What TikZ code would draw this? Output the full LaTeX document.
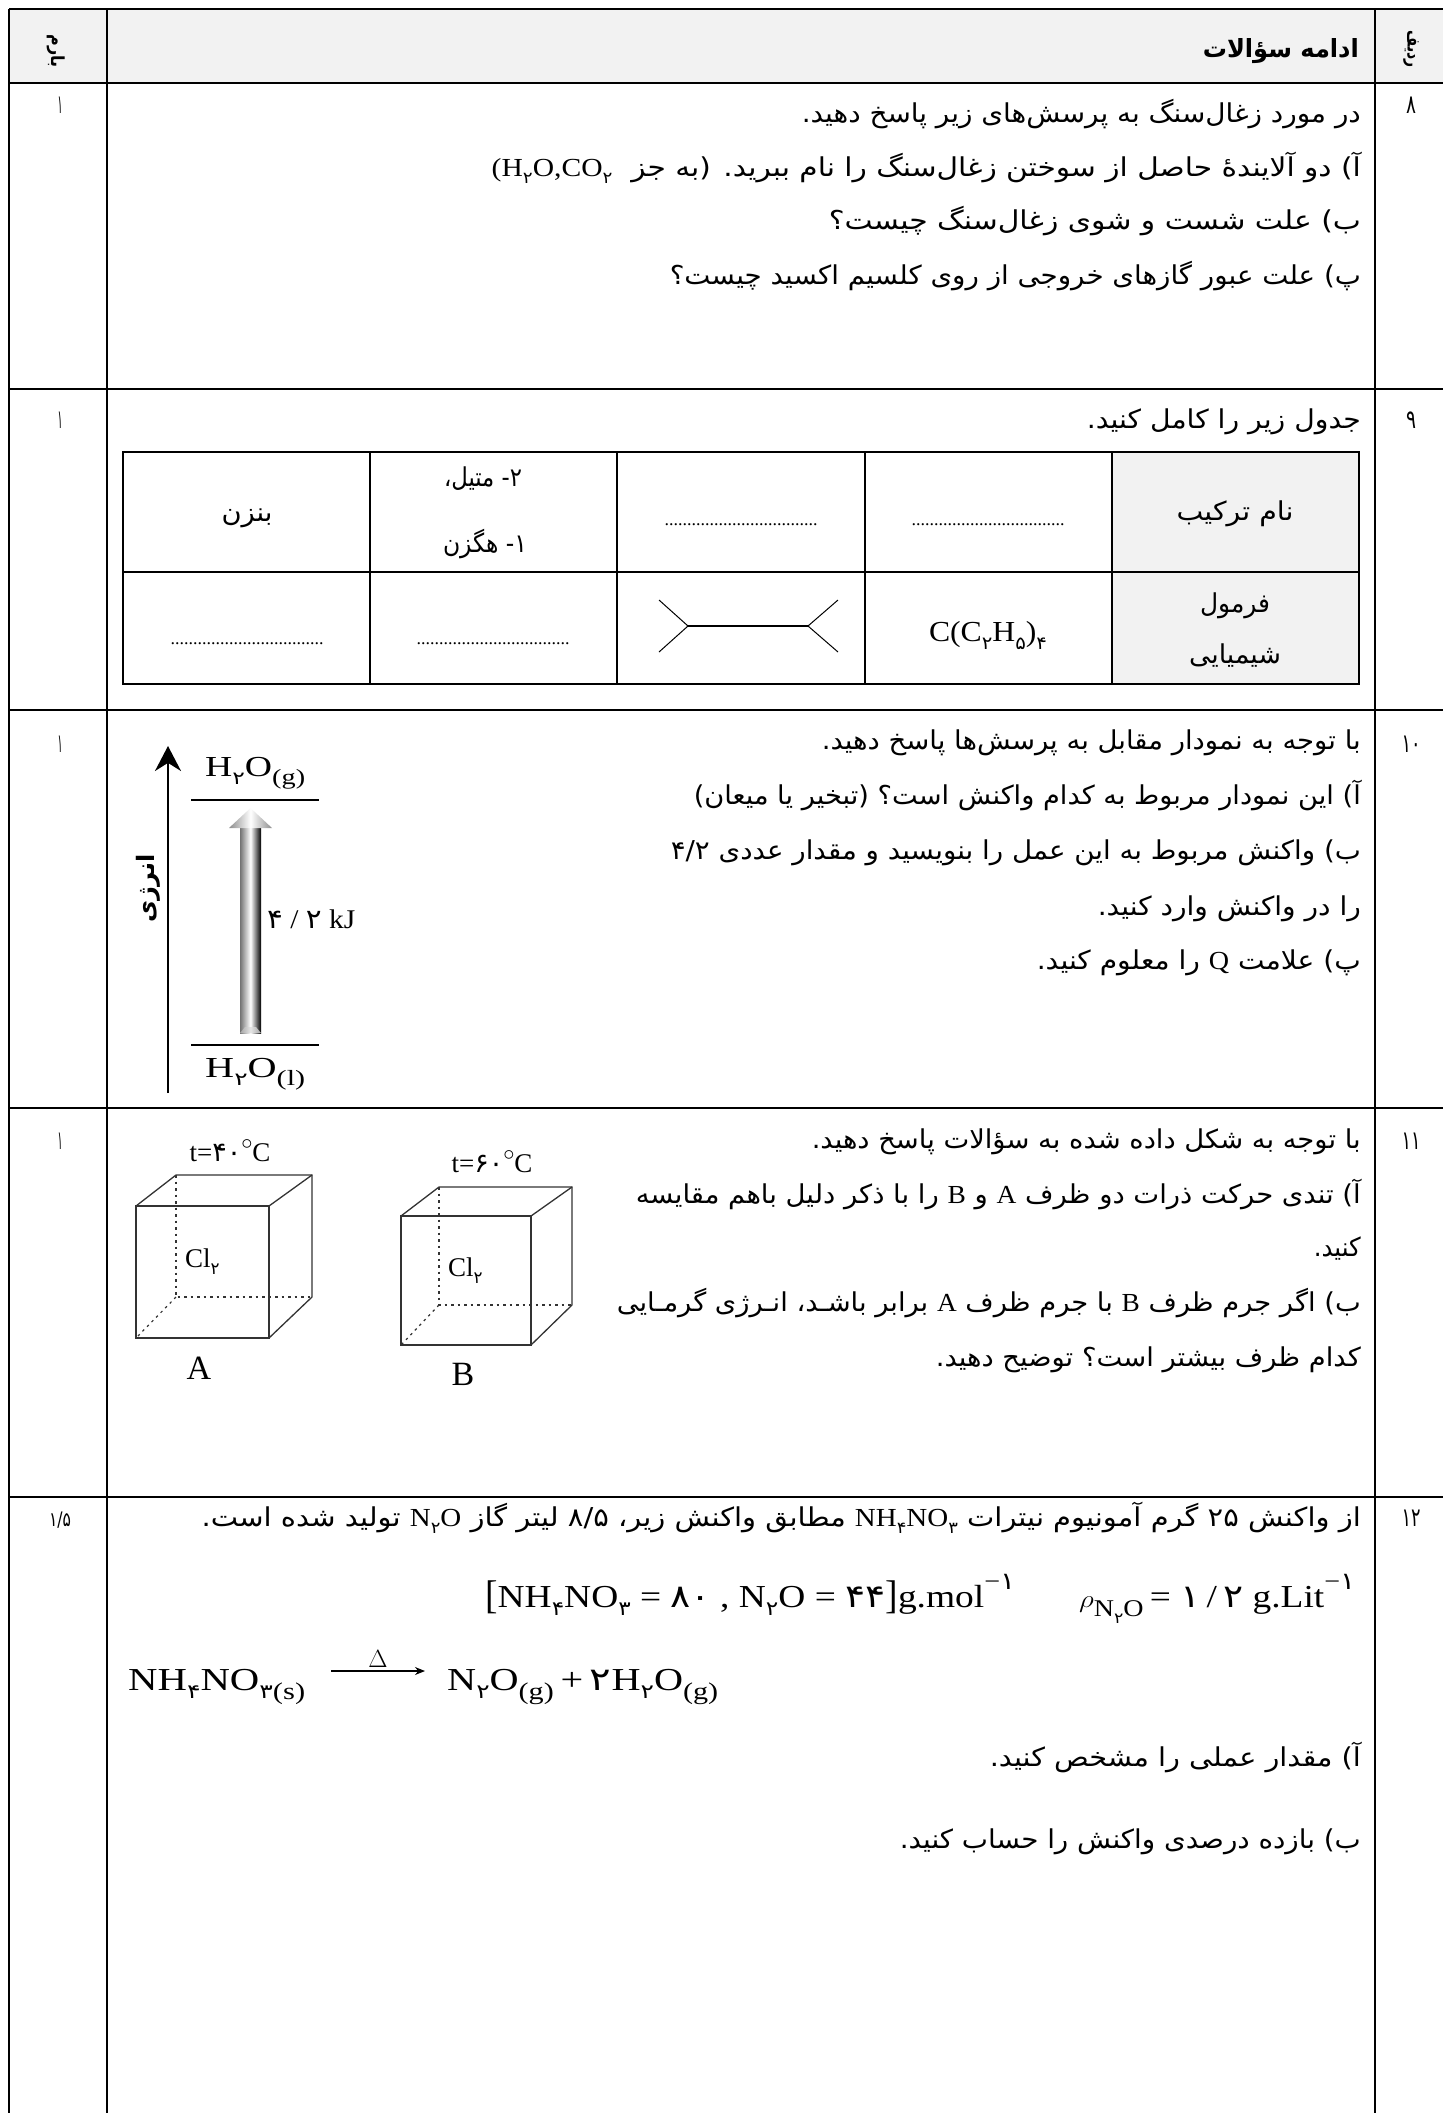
\documentclass[tikz,border=0pt]{standalone}
\usepackage{fontspec}
\usepackage{graphicx}
\TeXXeTstate=1
\newfontfamily\faf[Script=Arabic]{DejaVu Sans}
\newfontfamily\fab[Script=Arabic]{DejaVu Sans Bold}
\newfontfamily\ser{Liberation Serif}
\setmainfont{Liberation Serif}
\usetikzlibrary{arrows.meta}
\newcommand{\csub}[1]{\raisebox{-.28em}{\scalebox{.62}{\faf #1}}}
\newcommand{\ssub}[1]{\raisebox{-.3em}{\scalebox{.75}{#1}}}
\newcommand{\ssup}[1]{\raisebox{.55em}{\scalebox{.75}{#1}}}
\newcommand{\hto}{H\csub{۲}O}
\newcommand{\nno}{N\csub{۲}O}
\newcommand{\amm}{NH\csub{۴}NO\csub{۳}}
% Persian line: name, right x, y, width, text
\newcommand{\fa}[5]{\node[txt] (#1) at (#2,#3) {\resizebox{#4pt}{\height}{\fontsize{26}{30}\faf #5}};}
% Persian centred in a cell
\newcommand{\fc}[5]{\node[ctxt] (#1) at (#2,#3) {\resizebox{#4pt}{\height}{\fontsize{26}{30}\faf #5}};}
% Latin, left x
\newcommand{\la}[6]{\node[ltxt] (#1) at (#2,#3) {\resizebox{#4pt}{\height}{\fontsize{#5}{#5}\ser #6}};}
\newcommand{\lc}[5]{\node[lc] (#1) at (#2,#3) {\fontsize{#4}{#4}\ser #5};}
\tikzset{
  txt/.style={anchor=base east,inner sep=0pt,yshift=-8pt},
  ctxt/.style={anchor=base,inner sep=0pt,yshift=-8pt},
  ltxt/.style={anchor=base west,inner sep=0pt,yshift=-9pt},
  lc/.style={anchor=base,inner sep=0pt,yshift=-9pt},
  thickrule/.style={line width=2.4pt},
  thinrule/.style={line width=1.5pt},
  wire/.style={line width=1.3pt,draw=black!80},
  dotw/.style={line width=1.2pt,draw=black!80,dash pattern=on 2.5pt off 4pt},
  level/.style={line width=1.3pt},
  axis/.style={line width=2pt,-{Stealth[length=25pt,width=26pt]}},
  mol/.style={line width=1pt},
  molb/.style={line width=1.6pt},
  dotsl/.style={ctxt,font=\fontsize{18}{18}\ser}
}
\begin{document}
\begin{tikzpicture}[x=1pt,y=-1pt]
\useasboundingbox (0,0) rectangle (1443,2113);
\fill[black!5] (9,9) rectangle (1443,83);
% table frame
\coordinate (fl) at (9,9); \coordinate (flb) at (9,2113);
\coordinate (cl) at (107,9); \coordinate (clb) at (107,2113);
\coordinate (cr) at (1375,9); \coordinate (crb) at (1375,2113);
\draw[thinrule] (fl)--(flb);
\draw[thinrule] (cl)--(clb);
\draw[thinrule] (cr)--(crb);
\foreach \ya in {9,83,389,710,1108,1497}{\draw[thickrule] (9,\ya)--(1443,\ya);}
% header
\node[anchor=base east,inner sep=0pt,yshift=-8pt] (hd) at (1359,49) {\resizebox{156pt}{\height}{\fontsize{25}{30}\fab\beginR ادامه سؤالات\endR}};
\node[rotate=-90,inner sep=0pt] (hl) at (56,51) {\resizebox{33pt}{\height}{\fontsize{18}{20}\fab\beginR بارم\endR}};
\node[rotate=-90,inner sep=0pt] (hr) at (1411,49) {\resizebox{37pt}{\height}{\fontsize{18}{20}\fab\beginR ردیف\endR}};
% row numbers
\fc{n8}{1411}{105}{10}{۸}
\fc{n9}{1411}{420}{10}{۹}
\fc{n10}{1411}{744}{19}{۱۰}
\fc{n11}{1411}{1141}{19}{۱۱}
\fc{n12}{1411}{1518}{19}{۱۲}
\fc{b8}{60}{105}{5}{۱}
\fc{b9}{60}{420}{5}{۱}
\fc{b10}{60}{744}{5}{۱}
\fc{b11}{60}{1141}{5}{۱}
\node[ctxt] (b12) at (60,1518) {\resizebox{22pt}{\height}{\fontsize{20}{22}\faf ۱/۵}};
% Q8
\fa{q8a}{1361}{114}{559}{\beginR در مورد زغال‌سنگ به پرسش‌های زیر پاسخ دهید.\endR}
\fa{q8b}{1361}{168}{869}{\beginR آ) دو آلایندهٔ حاصل از سوختن زغال‌سنگ را نام ببرید. (به جز\ \ \beginL{\ser (\hto,CO\csub{۲}}\endL\endR}
\fa{q8c}{1361}{221}{532}{\beginR ب) علت شست و شوی زغال‌سنگ چیست؟\endR}
\fa{q8d}{1361}{276}{691}{\beginR پ) علت عبور گازهای خروجی از روی کلسیم اکسید چیست؟\endR}
% Q9
\fa{q9}{1361}{420}{274}{\beginR جدول زیر را کامل کنید.\endR}
\fill[black!5] (1112,452) rectangle (1359,684);
\draw[thickrule] (123,452) rectangle (1359,684);
\draw[thickrule] (123,572)--(1359,572);
\foreach \xa in {370,617,865,1112}{\draw[thinrule] (\xa,452)--(\xa,684);}
\fc{t1}{1235}{512}{117}{\beginR نام ترکیب\endR}
\fc{t2}{1235}{604}{70}{فرمول}
\fc{t3}{1235}{655}{92}{شیمیایی}
\node[dotsl] (d1) at (988,517) {..................................};
\node[dotsl] (d2) at (741,517) {..................................};
\fc{t4}{483}{478}{78}{\beginR ۲\kern0pt- متیل،\endR}
\fc{t5}{485}{544}{84}{\beginR ۱\kern0pt- هگزن\endR}
\fc{t6}{247}{513}{51}{بنزن}
\node[lc] (f1) at (988,632) {\resizebox{118pt}{\height}{\fontsize{29}{29}\ser C(C\csub{۲}H\csub{۵})\csub{۴}}};
\node[dotsl] (d3) at (493,636) {..................................};
\node[dotsl] (d4) at (247,636) {..................................};
% molecule
\coordinate (ma) at (688,626); \coordinate (mb) at (808,626);
\coordinate (m1) at (659,600); \coordinate (m2) at (659,652);
\coordinate (m3) at (838,600); \coordinate (m4) at (838,652);
\draw[molb] (ma)--(mb);
\draw[mol] (m1)--(ma)--(m2);
\draw[mol] (m3)--(mb)--(m4);
% Q10
\fa{q10a}{1361}{741}{539}{\beginR با توجه به نمودار مقابل به پرسش‌ها پاسخ دهید.\endR}
\fa{q10b}{1361}{796}{667}{\beginR آ) این نمودار مربوط به کدام واکنش است؟ (تبخیر یا میعان)\endR}
\fa{q10c}{1361}{851}{690}{\beginR ب) واکنش مربوط به این عمل را بنویسید و مقدار عددی ۴/۲\endR}
\fa{q10d}{1361}{907}{263}{\beginR را در واکنش وارد کنید.\endR}
\fa{q10e}{1361}{961}{324}{\beginR پ) علامت \beginL{\ser Q}\endL\ را معلوم کنید.\endR}
\coordinate (axb) at (168,1093); \coordinate (axt) at (168,746);
\draw[axis] (axb)--(axt);
\node[rotate=90,inner sep=0pt] (en) at (148,888) {\resizebox{68pt}{\height}{\fontsize{24}{28}\fab\beginR انرژی\endR}};
\coordinate (lt1) at (191,800); \coordinate (lt2) at (319,800);
\coordinate (lb1) at (191,1045); \coordinate (lb2) at (319,1045);
\draw[level] (lt1)--(lt2);
\draw[level] (lb1)--(lb2);
\shade[left color=black!55,right color=black,middle color=white] (240,828) rectangle (261,1033);
\shade[left color=black!45,right color=black!45,middle color=white] (229,828)--(250.5,808)--(272,828)--cycle;
\shade[left color=black!35,right color=black!35,middle color=black!10] (240,1033)--(245,1027)--(256,1027)--(261,1033)--cycle;
\la{hg}{205}{767}{100}{29}{\hto\ssub{(g)}}
\la{hl}{205}{1068}{100}{29}{\hto\ssub{(l)}}
\node[anchor=base west,inner sep=0pt] (kj) at (267,928) {\resizebox{88pt}{\height}{\fontsize{27}{27}\ser{\faf ۴}\ /\ {\faf ۲}\ kJ}};
% Q11
\fa{q11a}{1361}{1140}{549}{\beginR با توجه به شکل داده شده به سؤالات پاسخ دهید.\endR}
\fa{q11b}{1361}{1195}{725}{\beginR آ) تندی حرکت ذرات دو ظرف \beginL{\ser A}\endL\ و \beginL{\ser B}\endL\ را با ذکر دلیل باهم مقایسه\endR}
\fa{q11c}{1361}{1248}{47}{کنید.}
\fa{q11d}{1361}{1303}{744}{\beginR ب) اگر جرم ظرف \beginL{\ser B}\endL\ با جرم ظرف \beginL{\ser A}\endL\ برابر باشـد، انـرژی گرمـایی\endR}
\fa{q11e}{1361}{1358}{425}{\beginR کدام ظرف بیشتر است؟ توضیح دهید.\endR}
% cube A
\coordinate (af1) at (136,1206); \coordinate (af2) at (269,1206); \coordinate (af3) at (269,1338); \coordinate (af4) at (136,1338);
\coordinate (ab1) at (176,1175); \coordinate (ab2) at (312,1175); \coordinate (ab3) at (312,1297); \coordinate (ab4) at (176,1297);
\draw[dotw] (ab1)--(ab4)--(ab3);
\draw[dotw] (ab4)--(af4);
\draw[wire] (af1)--(af2)--(af3)--(af4)--cycle;
\draw[wire] (af1)--(ab1)--(ab2)--(ab3)--(af3);
\draw[wire] (af2)--(ab2);
\lc{ta}{230}{1152}{27}{t={\faf ۴۰}\raisebox{.42em}{\scalebox{.9}{$\circ$}}C}
\node[ltxt] (ca) at (185,1258) {\fontsize{27}{27}\ser Cl\csub{۲}};
\lc{lA}{199}{1370}{34}{A}
% cube B
\coordinate (bf1) at (401,1216); \coordinate (bf2) at (531,1216); \coordinate (bf3) at (531,1345); \coordinate (bf4) at (401,1345);
\coordinate (bb1) at (439,1187); \coordinate (bb2) at (572,1187); \coordinate (bb3) at (572,1305); \coordinate (bb4) at (439,1305);
\draw[dotw] (bb1)--(bb4)--(bb3);
\draw[dotw] (bb4)--(bf4);
\draw[wire] (bf1)--(bf2)--(bf3)--(bf4)--cycle;
\draw[wire] (bf1)--(bb1)--(bb2)--(bb3)--(bf3);
\draw[wire] (bf2)--(bb2);
\lc{tb}{492}{1163}{27}{t={\faf ۶۰}\raisebox{.42em}{\scalebox{.9}{$\circ$}}C}
\node[ltxt] (cb) at (448,1267) {\fontsize{27}{27}\ser Cl\csub{۲}};
\lc{lB}{463}{1376}{34}{B}
% Q12
\fa{q12a}{1361}{1518}{1159}{\beginR از واکنش ۲۵ گرم آمونیوم نیترات \beginL{\ser\amm}\endL\ مطابق واکنش زیر، ۸/۵ لیتر گاز \beginL{\ser\nno}\endL\ تولید شده است.\endR}
\la{e1}{485}{1598}{530}{32}{\raisebox{-.05em}{\scalebox{1}[1.25]{[}}\amm\ = {\faf ۸۰} , \nno\ = {\faf ۴۴}\raisebox{-.05em}{\scalebox{1}[1.25]{]}}g.mol\ssup{−\faf ۱}}
\la{e2}{1079}{1598}{276}{32}{$\rho$\ssub{\nno}\,= {\faf ۱}\,/\,{\faf ۲} g.Lit\ssup{−\faf ۱}}
\la{r1}{128}{1681}{177}{32}{\amm\ssub{(s)}}
\coordinate (r2) at (331,1671); \coordinate (r3) at (425,1671);
\draw[line width=1.2pt,-{Stealth[length=10pt,width=8pt]}] (r2)--(r3);
\lc{dl}{378}{1658}{26}{$\Delta$}
\la{r4}{447}{1681}{271}{32}{\nno\ssub{(g)}\,+\,{\faf ۲}\hto\ssub{(g)}}
\fa{q12b}{1361}{1758}{371}{\beginR آ) مقدار عملی را مشخص کنید.\endR}
\fa{q12c}{1361}{1840}{461}{\beginR ب) بازده درصدی واکنش را حساب کنید.\endR}
\end{tikzpicture}
\end{document}
